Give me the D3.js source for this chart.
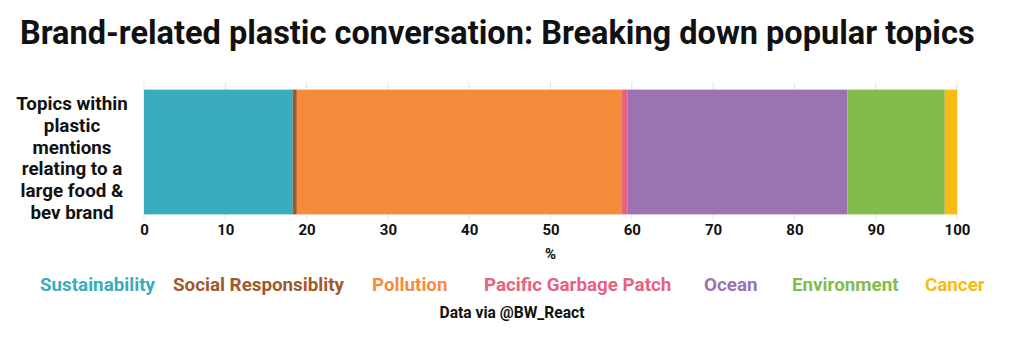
<!DOCTYPE html>
<html lang="en">
<head>
<meta charset="UTF-8">
<title>Brand-related plastic conversation</title>
<script src="https://cdn.jsdelivr.net/npm/d3@7/dist/d3.min.js"></script>
<style>
  body { margin: 0; background: #fff; }
  text { font-family: Roboto, "Noto Sans", sans-serif; font-weight: bold; }
</style>
</head>
<body>
<script>
var topics = ['Sustainability', 'Social Responsiblity', 'Pollution', 'Pacific Garbage Patch', 'Ocean', 'Environment', 'Cancer'];
var shares = [18.3, 0.5, 40.0, 0.7, 27.0, 12.0, 1.5];
var colors = ['#39acbd', '#a0582e', '#f68b3b', '#e9617f', '#9b73b1', '#82bd4c', '#f8bb15'];
var ticks = [0, 10, 20, 30, 40, 50, 60, 70, 80, 90, 100];
var rowLabel = ['Topics within', 'plastic', 'mentions', 'relating to a', 'large food &', 'bev brand'];

var w = 1024, h = 339;
var svg = d3.select('body').append('svg').attr('width', w).attr('height', h);

var x = d3.scaleLinear().domain([0, 100]).range([144, 957]);
var y = d3.scaleBand().domain(['row']).range([84, 220]).paddingInner(0).paddingOuter(0.045);

svg.append('text')
  .attr('x', 20).attr('y', 44)
  .attr('font-size', 32.5)
  .attr('fill', '#111')
  .text('Brand-related plastic conversation: Breaking down popular topics');

// gridlines
svg.append('g').selectAll('line')
  .data(ticks).enter().append('line')
  .attr('x1', d => x(d)).attr('x2', d => x(d))
  .attr('y1', 82).attr('y2', 220)
  .attr('stroke', '#e3e3e3').attr('stroke-width', 1);

// stacked segments
var starts = [];
shares.reduce(function (acc, v) { starts.push(acc); return acc + v; }, 0);

svg.append('g').selectAll('rect')
  .data(shares).enter().append('rect')
  .attr('x', (d, i) => x(starts[i]))
  .attr('width', d => x(d) - x(0))
  .attr('y', y('row'))
  .attr('height', y.bandwidth())
  .attr('fill', (d, i) => colors[i]);

var xAxis = d3.axisBottom(x).tickValues(ticks).tickSize(0).tickPadding(4);
var gx = svg.append('g')
  .attr('transform', 'translate(0,220)')
  .call(xAxis);
gx.select('.domain').remove();
gx.selectAll('text').attr('font-size', 15).attr('fill', '#111').style('font-family', 'Roboto').style('font-weight', 'bold');

svg.append('text')
  .attr('x', (x(0) + x(100)) / 2).attr('y', 259)
  .attr('text-anchor', 'middle').attr('font-size', 15).attr('fill', '#111')
  .text('%');

// row label
svg.append('text')
  .attr('text-anchor', 'middle').attr('font-size', 18.8).attr('fill', '#111')
  .selectAll('tspan').data(rowLabel).enter().append('tspan')
  .attr('x', 72).attr('y', (d, i) => 110 + i * 21.8)
  .text(d => d);

// legend
var legendX = [40, 173, 372, 484, 704, 792, 925];
var legend = svg.append('g');
legend.selectAll('text').data(topics).enter().append('text')
  .attr('x', (d, i) => legendX[i]).attr('y', 291)
  .attr('font-size', 18.8)
  .attr('fill', (d, i) => colors[i])
  .text(d => d);

svg.append('text')
  .attr('x', 512).attr('y', 318)
  .attr('text-anchor', 'middle').attr('font-size', 15.6).attr('fill', '#111')
  .text('Data via @BW_React');
</script>
</body>
</html>
